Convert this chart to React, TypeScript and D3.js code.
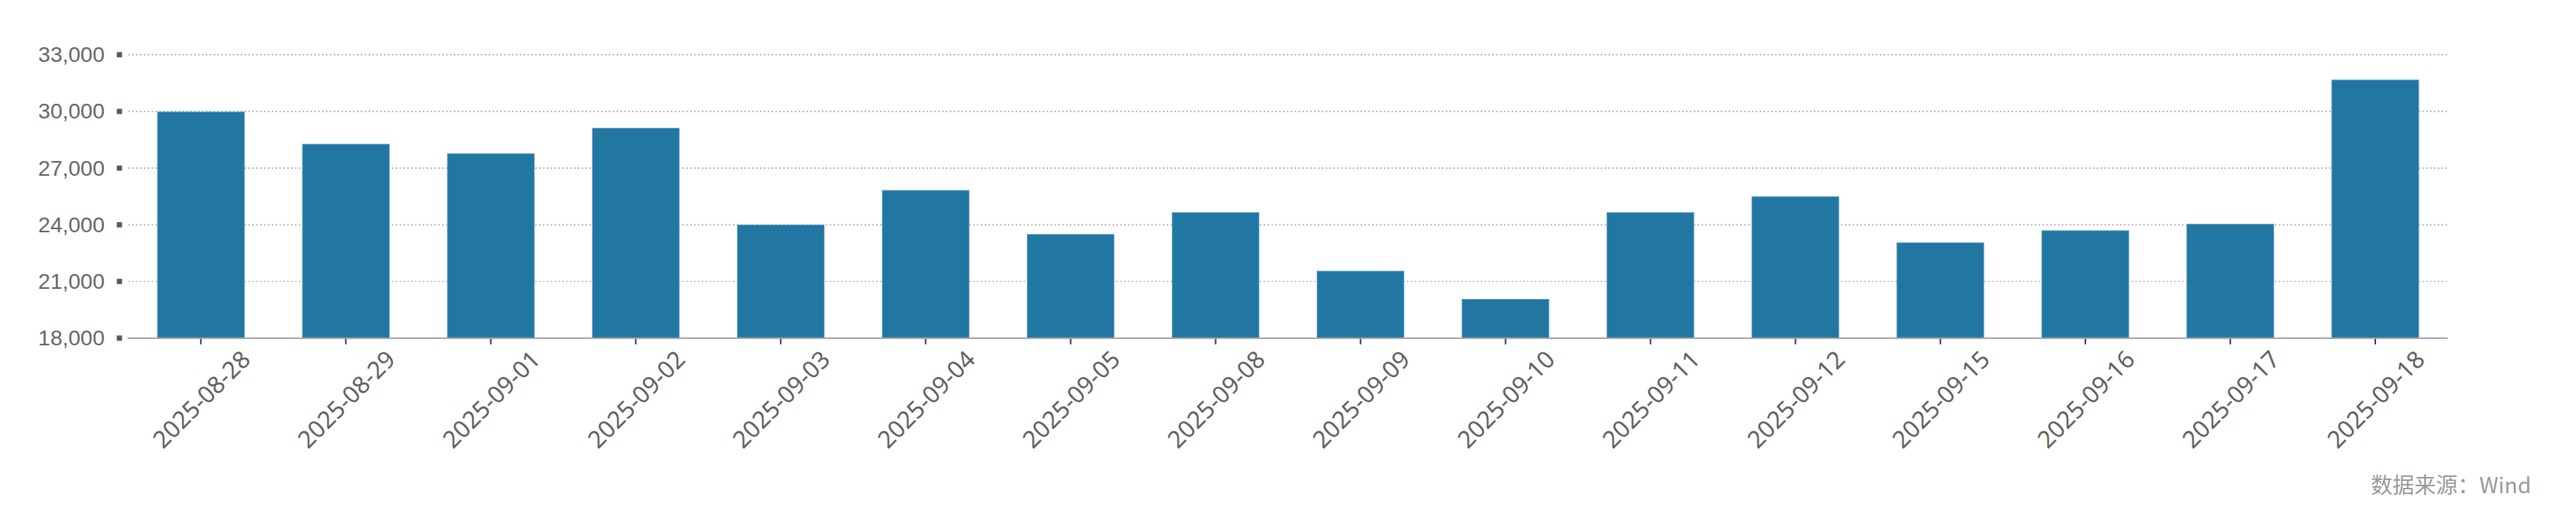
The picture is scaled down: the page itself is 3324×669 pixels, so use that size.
import React from "react";
import * as d3 from "d3";

const categories = [
  "2025-08-28", "2025-08-29", "2025-09-01", "2025-09-02", "2025-09-03", "2025-09-04",
  "2025-09-05", "2025-09-08", "2025-09-09", "2025-09-10", "2025-09-11", "2025-09-12",
  "2025-09-15", "2025-09-16", "2025-09-17", "2025-09-18",
];
const values = [
  29970, 28270, 27770, 29110, 23990, 25820, 23490, 24650, 21550, 20060, 24650, 25490,
  23050, 23690, 24040, 31670,
];
const yTicks = [18000, 21000, 24000, 27000, 30000, 33000];
const sourceText = "数据来源：Wind";

const W = 3324;
const H = 669;
const plotLeft = 165.7;
const plotRight = 3158.5;
const plotTop = 70.7;
const plotBottom = 436.7;

export default function App() {
  const x = d3
    .scaleBand<string>()
    .domain(categories)
    .range([plotLeft, plotRight])
    .paddingInner(0.4)
    .paddingOuter(0.2);
  const y = d3.scaleLinear().domain([18000, 33000]).range([plotBottom, plotTop]);
  const fmt = d3.format(",");

  return (
    <svg
      width={W}
      height={H}
      style={{ position: "absolute", left: 0, top: 0, background: "#fff" }}
    >
      {yTicks.slice(1).map((t) => (
        <line
          key={"g" + t}
          x1={plotLeft}
          x2={plotRight}
          y1={y(t)}
          y2={y(t)}
          stroke="#9c9ca4"
          strokeWidth={1.7}
          strokeDasharray="1.7,3.3"
        />
      ))}
      {yTicks.map((t) => (
        <g key={"y" + t}>
          <rect x={150.7} y={y(t) - 3.4} width={6.8} height={6.8} fill="#565b66" />
          <text
            x={135}
            y={y(t)}
            textAnchor="end"
            dominantBaseline="central"
            fontFamily="'Liberation Sans', Arial, sans-serif"
            fontSize={28}
            fill="#666"
          >
            {fmt(t)}
          </text>
        </g>
      ))}
      {categories.map((c, i) => (
        <rect
          key={"b" + c}
          x={x(c)!}
          y={y(values[i])}
          width={x.bandwidth()}
          height={plotBottom - y(values[i])}
          fill="#2276a2"
          stroke="#6aa6c8"
          strokeWidth={0.8}
        />
      ))}
      <line
        x1={plotLeft - 1}
        x2={plotRight}
        y1={plotBottom}
        y2={plotBottom}
        stroke="#a0a0a6"
        strokeWidth={2}
      />
      {categories.map((c) => {
        const cx = x(c)! + x.bandwidth() / 2;
        return (
          <g key={"x" + c}>
            <line
              x1={cx}
              x2={cx}
              y1={plotBottom + 1}
              y2={plotBottom + 8}
              stroke="#3a3d45"
              strokeWidth={2}
            />
            <text
              transform={`translate(${cx},${515}) rotate(-45)`}
              textAnchor="middle"
              dominantBaseline="central"
              fontFamily="'Noto Sans', 'Open Sans', sans-serif"
              fontSize={31}
              fill="#606060"
            >
              {c}
            </text>
          </g>
        );
      })}
      <text
        x={3266}
        y={625}
        textAnchor="end"
        dominantBaseline="central"
        fontFamily="'Noto Sans CJK SC', 'Noto Sans', sans-serif"
        fontSize={28}
        fill="#999"
      >
        {sourceText}
      </text>
    </svg>
  );
}
